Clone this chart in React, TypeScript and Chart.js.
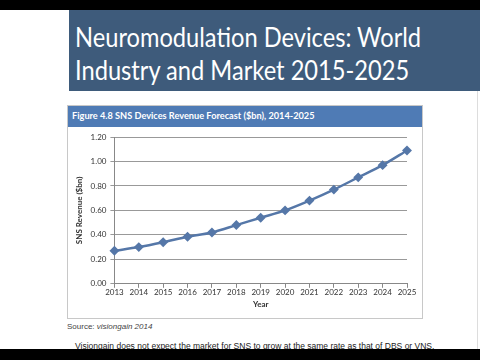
import React, { useEffect, useRef } from "react";
import { Chart, registerables } from "chart.js";

Chart.register(...registerables);

const years = ["2013", "2014", "2015", "2016", "2017", "2018", "2019", "2020", "2021", "2022", "2023", "2024", "2025"];
const revenue = [0.27, 0.3, 0.34, 0.385, 0.42, 0.48, 0.54, 0.6, 0.68, 0.77, 0.87, 0.97, 1.09];
const slideTitle = ["Neuromodulation Devices: World", "Industry and Market 2015-2025"];
const figureTitle = "Figure 4.8 SNS Devices Revenue Forecast ($bn), 2014-2025";
const yTitle = "SNS Revenue ($bn)";
const xTitle = "Year";

const FONT = "Lato, 'Open Sans', sans-serif";

export default function App() {
  const ref = useRef<HTMLCanvasElement | null>(null);

  useEffect(() => {
    if (!ref.current) return;
    const chart = new Chart(ref.current, {
      type: "line",
      data: {
        labels: years,
        datasets: [
          {
            data: revenue,
            borderColor: "#5577a8",
            backgroundColor: "#5577a8",
            borderWidth: 2.5,
            pointStyle: "rectRot",
            pointRadius: 3.2,
            tension: 0.3,
          },
        ],
      },
      options: {
        animation: false,
        responsive: false,
        maintainAspectRatio: false,
        layout: { padding: { left: 6, right: 14, top: 10, bottom: 8 } },
        plugins: { legend: { display: false }, tooltip: { enabled: false } },
        scales: {
          x: {
            offset: false,
            grid: { drawOnChartArea: false, tickLength: 4, color: "#888" },
            border: { color: "#888" },
            ticks: { color: "#333", font: { family: FONT, size: 8 }, padding: 0, maxRotation: 0, autoSkip: false },
            title: { display: true, text: xTitle, color: "#333", font: { family: FONT, size: 8, weight: "bold" }, padding: { top: 2, bottom: 0 } },
          },
          y: {
            min: 0,
            max: 1.2,
            ticks: { stepSize: 0.2, color: "#333", font: { family: FONT, size: 8 }, padding: 4, callback: (v: any) => Number(v).toFixed(2) },
            grid: { color: "#999", tickLength: 4 },
            border: { color: "#888" },
            title: { display: true, text: yTitle, color: "#333", font: { family: FONT, size: 8, weight: "bold" }, padding: { top: 0, bottom: 2 } },
          },
        },
      },
    });
    return () => chart.destroy();
  }, []);

  return (
    <div style={{ position: "fixed", left: 0, top: 0, width: 480, height: 360, background: "#fff", overflow: "hidden", fontFamily: FONT }}>
      <div style={{ position: "absolute", left: 0, top: 0, width: 480, height: 10, background: "#000" }} />
      <div style={{ position: "absolute", left: 69, top: 10, width: 411, height: 81, background: "#3e5b7b" }} />
      <div style={{ position: "absolute", left: 75, top: 21, color: "#fff", fontSize: 26, lineHeight: "33px", whiteSpace: "nowrap", transform: "scaleX(0.91)", transformOrigin: "left top" }}>
        <div>{slideTitle[0]}</div>
        <div>{slideTitle[1]}</div>
      </div>
      <div style={{ position: "absolute", left: 67, top: 105, width: 354, height: 212, border: "1px solid #c8c8c8", background: "#fff" }} />
      <div style={{ position: "absolute", left: 68, top: 106, width: 354, height: 21, background: "#4f7bb5" }} />
      <div style={{ position: "absolute", left: 72, top: 110, color: "#fff", fontSize: 9.2, fontWeight: "bold", whiteSpace: "nowrap" }}>{figureTitle}</div>
      <canvas ref={ref} width={352} height={190} style={{ position: "absolute", left: 69, top: 127, width: 352, height: 190 }} />
      <div style={{ position: "absolute", left: 67, top: 322, color: "#444", fontSize: 8, fontFamily: "'Liberation Sans', Arial, sans-serif", whiteSpace: "nowrap" }}>
        Source: <i>visiongain 2014</i>
      </div>
      <div style={{ position: "absolute", left: 75, top: 341, color: "#222", fontSize: 8.5, fontFamily: "'Liberation Sans', Arial, sans-serif", whiteSpace: "nowrap", textDecoration: "underline" }}>
        Visiongain does not expect the market for SNS to grow at the same rate as that of DBS or VNS.
      </div>
      <div style={{ position: "absolute", left: 0, top: 349, width: 480, height: 11, background: "#000" }} />
      <div style={{ position: "absolute", left: 477, top: 91, width: 1, height: 258, background: "#ddd" }} />
    </div>
  );
}
